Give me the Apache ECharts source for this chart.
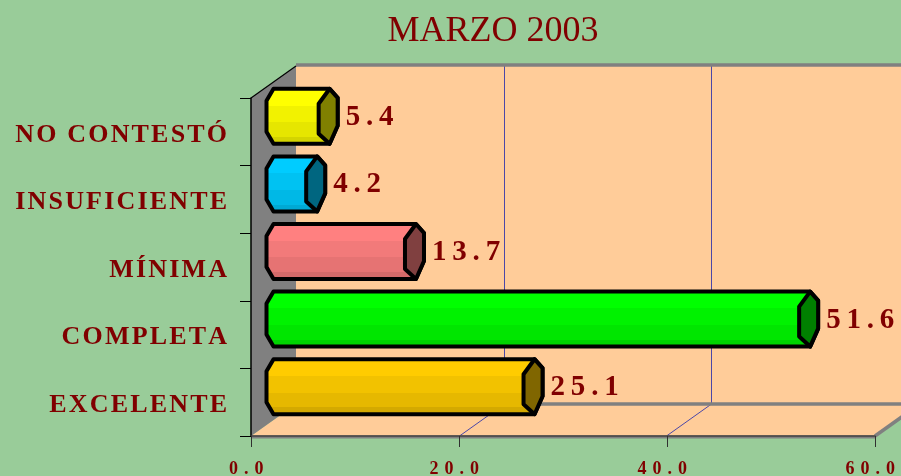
<!DOCTYPE html>
<html>
<head>
<meta charset="utf-8">
<style>html,body{margin:0;padding:0;background:#99CC99}#c{width:901px;height:476px}</style>
<script src="https://cdn.jsdelivr.net/npm/echarts@6/dist/echarts.min.js"></script>
</head>
<body>
<div id="c"></div>
<script>
const titleText = 'MARZO 2003';
const categories = ['EXCELENTE', 'COMPLETA', 'MÍNIMA', 'INSUFICIENTE', 'NO CONTESTÓ'];
const values = [25.1, 51.6, 13.7, 4.2, 5.4];
const xTicks = [0, 20, 40, 60];
const faceColors = [[255,204,0],[0,255,0],[255,128,128],[0,204,255],[255,255,0]];
const capColors = ['#806600','#008000','#804040','#006680','#808000'];

const DEPTH_X = 45, DEPTH_Y = 32, MID_X = 22.5, MID_Y = 15.5;
const spaced = (s, sep) => s.split('').join(sep);
const HAIR = '\u200A', THIN = '\u2009', MID = '\u2004';

function bands(rgb){
  const f = [1, 0.95, 0.9, 0.83];
  const stops = [];
  const edges = [0, 0.32, 0.6, 0.85, 1];
  f.forEach((k, i) => {
    const c = 'rgb(' + rgb.map(v => Math.round(v * k)).join(',') + ')';
    stops.push({offset: edges[i], color: c}, {offset: edges[i + 1], color: c});
  });
  return {type: 'linear', x: 0, y: 0, x2: 0, y2: 1, colorStops: stops};
}

function renderWalls(params, api){
  const g = params.coordSys;
  const L = g.x, R = g.x + g.width, T = g.y, B = g.y + g.height;
  const children = [
    {type:'polygon', shape:{points:[[L+DEPTH_X,T-DEPTH_Y],[R+DEPTH_X,T-DEPTH_Y],[R+DEPTH_X,B-DEPTH_Y],[L+DEPTH_X,B-DEPTH_Y]]}, style:{fill:'#FFCC99'}},
    {type:'polygon', shape:{points:[[L,B],[L+DEPTH_X,B-DEPTH_Y],[R+DEPTH_X,B-DEPTH_Y],[R,B]]}, style:{fill:'#FFCC99'}},
    {type:'polygon', shape:{points:[[L,T],[L+DEPTH_X,T-DEPTH_Y],[L+DEPTH_X,B-DEPTH_Y],[L,B]]}, style:{fill:'#808080'}}
  ];
  xTicks.slice(1, 3).forEach(t => {
    const x = Math.floor(api.coord([t, 0])[0] - t / 40 + 0.5) + 0.5;
    children.push({type:'polyline', shape:{points:[[x,B],[x+DEPTH_X,B-DEPTH_Y],[x+DEPTH_X,T-DEPTH_Y]]},
      style:{stroke:'#4B47A8', lineWidth:1, fill:null}});
  });
  children.push(
    {type:'polyline', shape:{points:[[L+DEPTH_X,T-DEPTH_Y-1],[R+DEPTH_X,T-DEPTH_Y-1]]}, style:{stroke:'#808080', lineWidth:3.5, fill:null}},
    {type:'polyline', shape:{points:[[L+DEPTH_X,B-DEPTH_Y],[R+DEPTH_X,B-DEPTH_Y]]}, style:{stroke:'#808080', lineWidth:3.5, fill:null}},
    {type:'polyline', shape:{points:[[R,B],[R+DEPTH_X,B-DEPTH_Y]]}, style:{stroke:'#808080', lineWidth:3.5, fill:null}},
    {type:'polyline', shape:{points:[[L,B+1],[R,B+1]]}, style:{stroke:'#808080', lineWidth:3, fill:null}},
    {type:'polyline', shape:{points:[[L,T],[L+DEPTH_X,T-DEPTH_Y]]}, style:{stroke:'#000', lineWidth:1.2, fill:null}}
  );
  return {type:'group', children};
}

function renderBar(params, api){
  const i = api.value(1), v = api.value(0);
  const base = api.coord([0, i]), end = api.coord([v, i]);
  const h = 27.5;
  const cy = base[1] - MID_Y, top = cy - h, bot = cy + h;
  const x0 = base[0] + MID_X, x1 = end[0] + MID_X;
  return {type:'group', children:[
    {type:'polygon', shape:{points:[[x0,top],[x1,top],[x1+8,top+9],[x1+8,bot-18],[x1,bot],[x0,bot],[x0-7,bot-12],[x0-7,top+12]]},
      style:{fill:bands(faceColors[i]), stroke:'#000', lineWidth:4, lineJoin:'round'}},
    {type:'polygon', shape:{points:[[x1,top],[x1+8,top+9],[x1+8,bot-18],[x1,bot],[x1-11,bot-10],[x1-11,top+15]]},
      style:{fill:capColors[i], stroke:'#000', lineWidth:4, lineJoin:'round'}},
    {type:'text', style:{x:x1+16, y:cy+1, text:spaced(v.toFixed(1), THIN), fill:'#800000',
      font:'bold 29px "Liberation Serif"', textAlign:'left', textVerticalAlign:'middle'}}
  ]};
}

const catFont = {fontFamily:'Liberation Serif', fontWeight:'bold', fontSize:26, color:'#800000'};
const chart = echarts.init(document.getElementById('c'), null, {renderer:'canvas', width:901, height:476});
chart.setOption({
  animation:false,
  backgroundColor:'#99CC99',
  title:{text:titleText, left:488, top:9, textAlign:'center',
    textStyle:{fontFamily:'Liberation Serif', fontWeight:'normal', fontSize:36, color:'#800000'}},
  grid:{left:251, top:98, width:624, height:338, containLabel:false, outerBoundsMode:'none'},
  xAxis:{type:'value', min:0, max:60, interval:20, z:2, splitLine:{show:false},
    axisLine:{show:true, lineStyle:{color:'#404040', width:1.5}},
    axisTick:{show:true, length:11, lineStyle:{color:'#303030', width:1}},
    axisLabel:{margin:24, color:'#800000', fontFamily:'Liberation Serif', fontWeight:'bold', fontSize:18,
      showMaxLabel:true, showMinLabel:true, hideOverlap:false,
      formatter:v => spaced(v.toFixed(1), MID) + MID + THIN}},
  yAxis:{type:'category', data:categories, z:2,
    axisLine:{show:true, lineStyle:{color:'#000', width:1.5}},
    axisTick:{show:true, length:11, alignWithLabel:false, lineStyle:{color:'#000', width:1}},
    axisLabel:Object.assign({margin:24, interval:0,
      rich:{a:Object.assign({padding:[6,0,0,0]}, catFont)},
      formatter:s => '{a|' + spaced(s, HAIR) + '}'}, catFont)},
  series:[
    {type:'custom', z:1, silent:true, renderItem:renderWalls, data:[[0,0]], encode:{x:0,y:1}},
    {type:'custom', z:3, silent:true, renderItem:renderBar, clip:false,
      data:values.map((v,i)=>[v,i]), encode:{x:0,y:1}}
  ]
});
</script>
</body>
</html>
